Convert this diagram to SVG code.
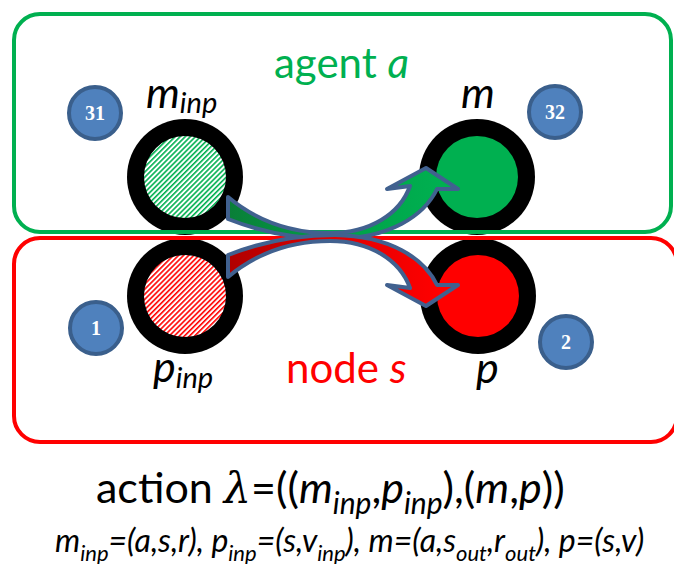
<svg xmlns="http://www.w3.org/2000/svg" width="674" height="564" viewBox="0 0 674 564">
<style>
  .lbl { font-family: Lato, "Open Sans", "Liberation Sans", sans-serif; }
  .it { font-style: italic; }
  .badge circle { fill: #4F81BD; stroke: #3A5F8C; stroke-width: 4; }
  .badge text { font-family: "Liberation Serif", serif; font-weight: bold; font-size: 20px; fill: #ffffff; text-anchor: middle; }
  .ring { fill: #000000; }
  .arrow { stroke: #41618F; stroke-width: 4; stroke-linejoin: round; }
</style>
<defs>
  <pattern id="hatchG" width="3.6" height="10" patternUnits="userSpaceOnUse" patternTransform="rotate(45)">
    <rect width="3.6" height="10" fill="#ffffff"/>
    <rect width="1.6" height="10" fill="#00B050"/>
  </pattern>
  <pattern id="hatchR" width="3.6" height="10" patternUnits="userSpaceOnUse" patternTransform="rotate(45)">
    <rect width="3.6" height="10" fill="#ffffff"/>
    <rect width="1.6" height="10" fill="#FF0000"/>
  </pattern>
  <linearGradient id="gG" gradientUnits="userSpaceOnUse" x1="230" y1="0" x2="440" y2="0">
    <stop offset="0" stop-color="#0A7F38"/>
    <stop offset="0.5" stop-color="#00A048"/>
    <stop offset="1" stop-color="#00B050"/>
  </linearGradient>
  <linearGradient id="gR" gradientUnits="userSpaceOnUse" x1="230" y1="0" x2="440" y2="0">
    <stop offset="0" stop-color="#B00000"/>
    <stop offset="0.5" stop-color="#E00000"/>
    <stop offset="1" stop-color="#FF0000"/>
  </linearGradient>
</defs>
<rect width="674" height="564" fill="#ffffff"/>

<g id="node-m-inp">
  <circle class="ring" cx="185" cy="177" r="58"/>
  <circle cx="185" cy="177" r="41" fill="url(#hatchG)"/>
  <text class="lbl it" x="146" y="108" font-size="43">m<tspan font-size="29" dy="5">inp</tspan></text>
</g>
<g id="node-p-inp">
  <circle class="ring" cx="185" cy="296" r="58"/>
  <circle cx="185" cy="296" r="41" fill="url(#hatchR)"/>
  <text class="lbl it" x="153" y="382" font-size="43">p<tspan font-size="29" dy="6">inp</tspan></text>
</g>
<g id="node-m">
  <circle class="ring" cx="477" cy="177" r="58"/>
  <circle cx="477" cy="177" r="41" fill="#00B050"/>
  <text class="lbl it" x="461" y="108" font-size="43">m</text>
</g>
<g id="node-p">
  <circle class="ring" cx="478" cy="296" r="58"/>
  <circle cx="478" cy="296" r="41" fill="#FF0000"/>
  <text class="lbl it" x="476" y="383" font-size="43">p</text>
</g>

<g id="agent-a">
  <rect x="14" y="14" width="657" height="218" rx="26" fill="none" stroke="#00B050" stroke-width="4"/>
  <text class="lbl" x="274" y="78" font-size="42" fill="#00B050">agent <tspan class="it">a</tspan></text>
</g>
<g id="node-s">
  <rect x="14" y="238" width="663" height="204" rx="26" fill="none" stroke="#FF0000" stroke-width="4"/>
  <text class="lbl" x="286" y="383" font-size="42" fill="#FF0000">node <tspan class="it">s</tspan></text>
</g>

<g id="badge-31" class="badge"><circle cx="95" cy="113" r="26"/><text x="95" y="120">31</text></g>
<g id="badge-32" class="badge"><circle cx="555" cy="112" r="26"/><text x="555" y="119">32</text></g>
<g id="badge-1" class="badge"><circle cx="96" cy="328" r="26"/><text x="96" y="335">1</text></g>
<g id="badge-2" class="badge"><circle cx="566" cy="342" r="26"/><text x="566" y="349">2</text></g>

<g id="connectors">
  <path class="arrow" fill="url(#gG)" d="M 228,197 C 258,222 292,233 330,233 C 370,233 400,214 410,186 L 387,189 L 426,168 L 458,189 L 437,189 C 424,216 390,238 335,239 C 290,239 256,230 228,219 Z"/>
  <path class="arrow" fill="url(#gR)" d="M 228,277 C 258,252 292,241 330,241 C 370,241 400,260 410,288 L 387,285 L 426,306 L 458,285 L 437,285 C 424,258 390,236 335,235 C 290,235 256,244 228,255 Z"/>
</g>

<g id="caption">
  <text class="lbl" x="96" y="503" font-size="43">action <tspan font-family="'DejaVu Serif', serif" class="it">λ</tspan>=((<tspan class="it">m</tspan><tspan class="it" font-size="30" dy="11">inp</tspan><tspan dy="-11">,</tspan><tspan class="it">p</tspan><tspan class="it" font-size="30" dy="11">inp</tspan><tspan dy="-11">),(</tspan><tspan class="it">m</tspan>,<tspan class="it">p</tspan>))</text>
  <text class="lbl it" x="55" y="552" font-size="32">m<tspan font-size="22" dy="9">inp</tspan><tspan dy="-9">=(a,s,r), p</tspan><tspan font-size="22" dy="9">inp</tspan><tspan dy="-9">=(s,v</tspan><tspan font-size="22" dy="9">inp</tspan><tspan dy="-9">), m=(a,s</tspan><tspan font-size="22" dy="9">out</tspan><tspan dy="-9">,r</tspan><tspan font-size="22" dy="9">out</tspan><tspan dy="-9">), p=(s,v)</tspan></text>
</g>
</svg>
